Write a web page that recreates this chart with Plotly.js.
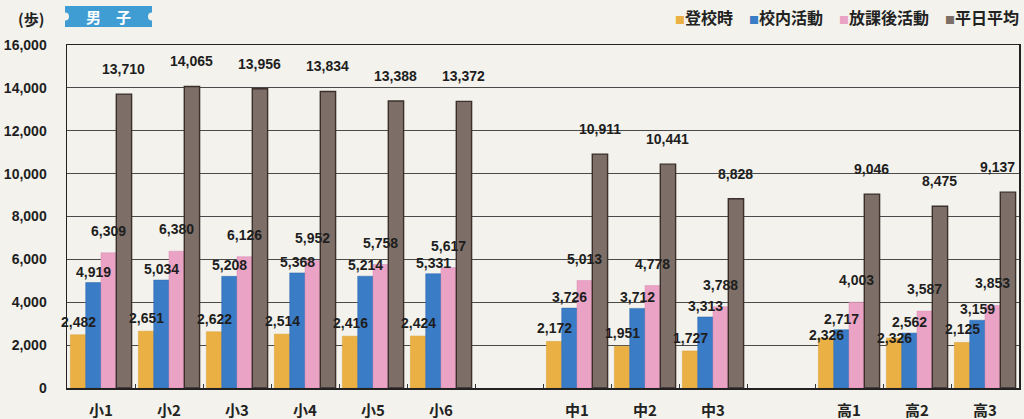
<!DOCTYPE html>
<html>
<head>
<meta charset="utf-8">
<script src="https://cdn.plot.ly/plotly-3.0.1.min.js"></script>
<style>
html,body{margin:0;padding:0;background:#f3f2ec;}
#chart{width:1024px;height:419px;}
</style>
</head>
<body>
<div id="chart"></div>
<script>
// ---- data ----
const categories = ['小1','小2','小3','小4','小5','小6',' ','中1','中2','中3','  ','高1','高2','高3'];
const gradeLabels = ['小1','小2','小3','小4','小5','小6','中1','中2','中3','高1','高2','高3'];
const seriesNames = ['登校時','校内活動','放課後活動','平日平均'];
const commute   = [2482, 2651, 2622, 2514, 2416, 2424, 2172, 1951, 1727, 2326, 2326, 2125];
const inSchool  = [4919, 5034, 5208, 5368, 5214, 5331, 3726, 3712, 3313, 2717, 2562, 3159];
const afterSch  = [6309, 6380, 6126, 5952, 5758, 5617, 5013, 4778, 3788, 4003, 3587, 3853];
const weekdayAv = [13710, 14065, 13956, 13834, 13388, 13372, 10911, 10441, 8828, 9046, 8475, 9137];
const yTicks = [0, 2000, 4000, 6000, 8000, 10000, 12000, 14000, 16000];

// ---- style ----
const colors = ['#ebb044', '#3b7cc6', '#eaa3c5', '#7d6f67'];
const lineColors = ['#d9a035', '#2f69ad', '#d98fb2', '#3a2f2a'];
const lineWidths = [0.5, 0.5, 0.5, 1.4];
const W = 1024, H = 419;
const M = {l: 67, r: 5, t: 45, b: 31};
const plotW = W - M.l - M.r, plotH = H - M.t - M.b;
const yMax = 16000;
const bargap = 0.1;
const numFont = 'Liberation Sans, Arial, sans-serif';
const cjkFont = 'Noto Sans CJK JP, sans-serif';

const allSeries = [commute, inSchool, afterSch, weekdayAv];
const traces = allSeries.map((vals, k) => ({
  type: 'bar',
  name: seriesNames[k],
  x: gradeLabels,
  y: vals,
  marker: {color: colors[k], line: {color: lineColors[k], width: lineWidths[k]}},
  hoverinfo: 'x+y+name'
}));

// value labels, with a simple collision step between neighbouring labels
const slot = plotW / categories.length;
const barW = slot * (1 - bargap) / 4;
const gapAbove = [3, 1, 12, 15];   // px between bar top and label bottom
const labelH = 14, charW = 7.8;
const pxPerUnit = plotH / yMax;
const annotations = [];
gradeLabels.forEach((g, i) => {
  const slotIdx = categories.indexOf(g);
  const slotCenter = (slotIdx + 0.5) * slot;
  // label bottom positions measured upward from the value (px)
  const shifts = gapAbove.slice();
  // if the first label would collide with the second, move it down below it
  const topPx0 = allSeries[0][i] * pxPerUnit + shifts[0];
  const topPx1 = allSeries[1][i] * pxPerUnit + shifts[1];
  if (Math.abs(topPx1 - topPx0) < labelH + 1) {
    shifts[0] = (topPx1 - labelH - 2) - allSeries[0][i] * pxPerUnit;
  }
  allSeries.forEach((vals, k) => {
    const txt = vals[i].toLocaleString('en-US');
    let xs = (k - 1.5) * barW;
    const half = txt.length * charW / 2;
    const overflow = slotCenter + xs + half - plotW;
    if (overflow > 0) xs -= overflow + 2;
    annotations.push({
      x: g, y: vals[i], xref: 'x', yref: 'y',
      text: txt,
      showarrow: false, yanchor: 'bottom', xanchor: 'center',
      xshift: xs, yshift: shifts[k],
      font: {family: numFont, size: 14, color: '#1e1e1e', weight: 'bold'}
    });
  });
});

const px = x => (x - M.l) / plotW;
const py = y => (H - M.b - y) / plotH;

// legend (drawn as text line)
const legendText = seriesNames.map((n, k) =>
  '<span style="color:' + colors[k] + ';font-size:10px">■</span>' + n).join('　');
annotations.push({
  xref: 'paper', yref: 'paper', x: px(1021), y: py(17),
  xanchor: 'right', yanchor: 'middle', showarrow: false,
  text: legendText,
  font: {family: cjkFont, size: 16, color: '#222', weight: 'bold'}
});
// unit
annotations.push({
  xref: 'paper', yref: 'paper', x: px(31), y: py(18),
  xanchor: 'center', yanchor: 'middle', showarrow: false,
  text: '(歩)',
  font: {family: cjkFont, size: 15, color: '#222', weight: 'bold'}
});
// badge text
annotations.push({
  xref: 'paper', yref: 'paper', x: px(108), y: py(16.5),
  xanchor: 'center', yanchor: 'middle', showarrow: false,
  text: '男　子',
  font: {family: cjkFont, size: 15, color: '#ffffff', weight: 'bold'}
});

const shapes = [
  {type: 'rect', xref: 'paper', yref: 'paper', layer: 'above',
   x0: px(65), x1: px(152), y0: py(27), y1: py(6),
   fillcolor: '#3f9dd3', line: {width: 0}},
  {type: 'circle', xref: 'paper', yref: 'paper', layer: 'above',
   x0: px(61), x1: px(69), y0: py(20.5), y1: py(12.5),
   fillcolor: '#f3f2ec', line: {width: 0}},
  {type: 'circle', xref: 'paper', yref: 'paper', layer: 'above',
   x0: px(148), x1: px(156), y0: py(20.5), y1: py(12.5),
   fillcolor: '#f3f2ec', line: {width: 0}}
];

const layout = {
  width: W, height: H,
  margin: M,
  paper_bgcolor: '#f3f2ec',
  plot_bgcolor: '#f3f2ec',
  barmode: 'group',
  bargap: bargap,
  bargroupgap: 0,
  showlegend: false,
  xaxis: {
    type: 'category',
    categoryorder: 'array',
    categoryarray: categories,
    range: [-0.5, categories.length - 0.5],
    tickson: 'boundaries',
    ticks: 'inside', ticklen: 4, tickcolor: '#333',
    showline: true, linecolor: '#222', linewidth: 1.5, mirror: true,
    showgrid: false,
    ticklabelstandoff: 8,
    tickfont: {family: cjkFont, size: 15, color: '#222', weight: 'bold'},
    fixedrange: true
  },
  yaxis: {
    range: [0, yMax],
    tickvals: yTicks,
    tickformat: ',',
    showgrid: true, gridcolor: '#4a4a4a', gridwidth: 1,
    showline: true, linecolor: '#222', linewidth: 1.5, mirror: true,
    zeroline: false,
    ticks: '',
    ticklabelstandoff: 16,
    tickfont: {family: numFont, size: 14, color: '#1e1e1e', weight: 'bold'},
    fixedrange: true
  },
  annotations: annotations,
  shapes: shapes
};

Plotly.newPlot('chart', traces, layout, {displayModeBar: false, staticPlot: true});
</script>
</body>
</html>
